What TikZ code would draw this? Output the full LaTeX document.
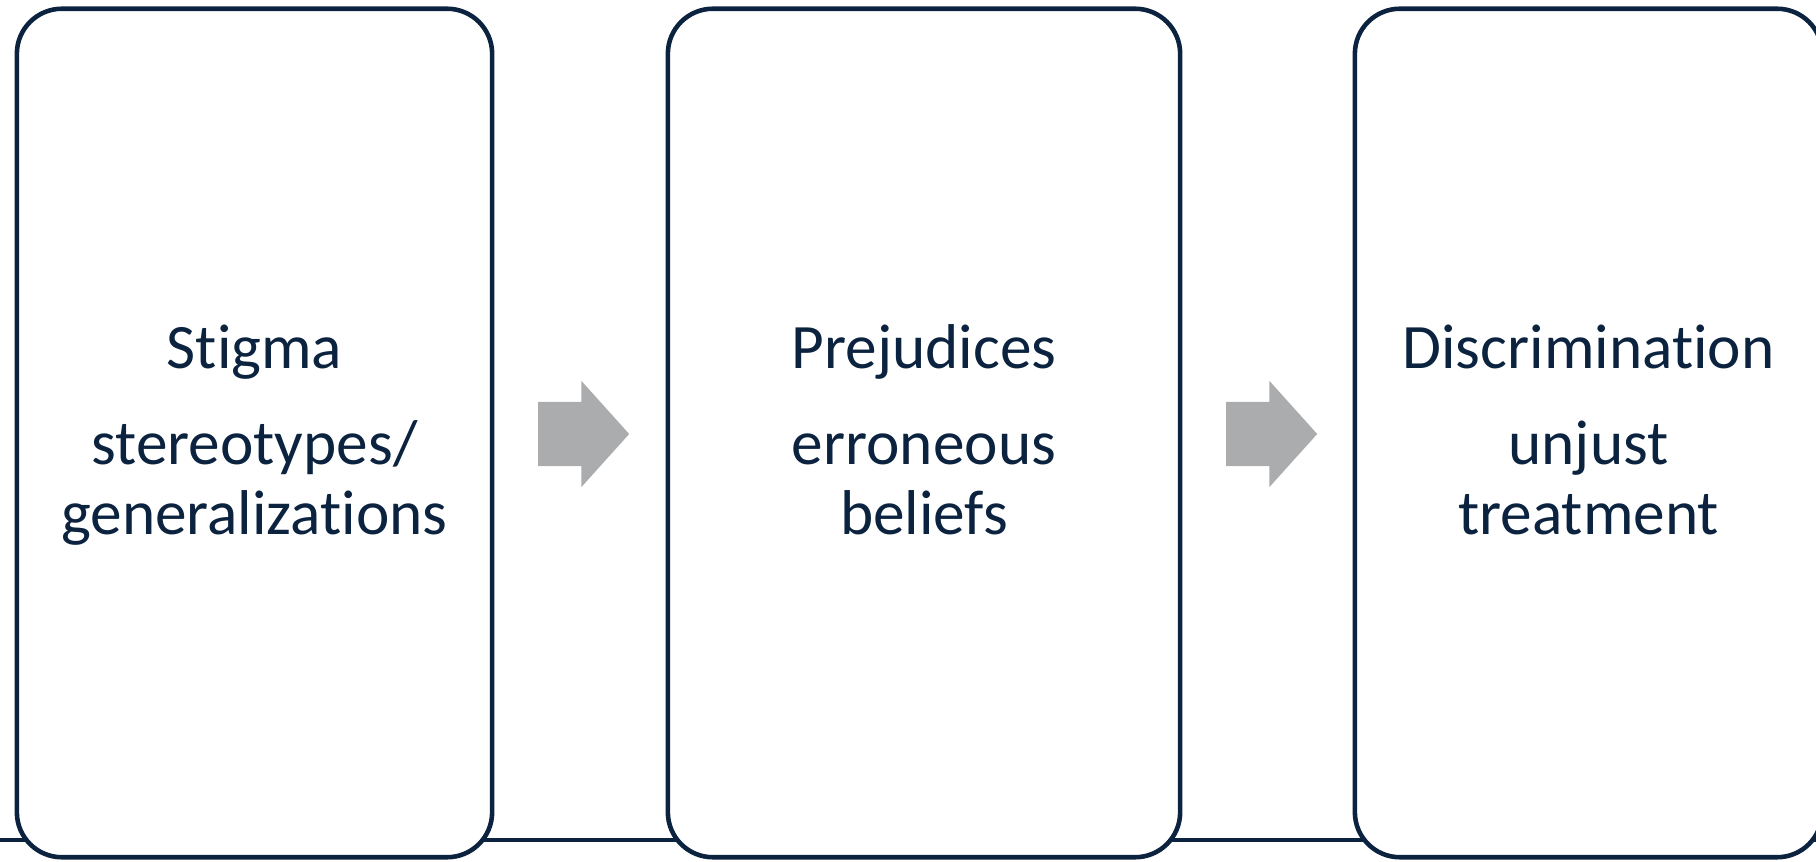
\documentclass[tikz,border=0pt]{standalone}
\usepackage{fontspec}
\setmainfont{Carlito}[Ligatures=NoCommon]
\usetikzlibrary{shapes.arrows,calc}
\definecolor{navy}{HTML}{0C2340}
\definecolor{arrowgray}{HTML}{ABACAE}

\begin{document}
\begin{tikzpicture}[x=0.01cm, y=-0.01cm]

    \tikzset{%
    every box/.style={
        rectangle,
        rounded corners=4.5mm,
        draw=navy,
        line width=1.3pt,
        fill=white,
        minimum height=8.48cm
        },
    box text/.style={
        text=navy,
        font=\fontsize{18}{20}\selectfont,
        anchor=base,
        inner sep=0pt
        },
    step arrow/.style={
        single arrow,
        fill=arrowgray,
        draw=none,
        minimum height=9.1mm,
        single arrow head extend=2.1mm,
        single arrow tip angle=96,
        inner xsep=0pt,
        inner ysep=3.15mm,
        anchor=tail
        },
    }

    \useasboundingbox (0,0) rectangle (1816,862);

    % Base line, behind the boxes
    \coordinate (line-start) at (0,840);
    \coordinate (line-end) at (1816,840);
    \draw [navy, line width=1pt] (line-start) -- (line-end);

    % The three boxes
    \node [every box, minimum width=4.75cm] (stigma) at (254.5,433) {};
    \node [every box, minimum width=5.12cm] (prejudices) at (924,433) {};
    \node [every box, minimum width=4.67cm] (discrimination) at (1588.5,433) {};

    % Block arrows between the boxes
    \node [step arrow] (arrow-1) at ($(stigma.east)+(43,1)$) {};
    \node [step arrow] (arrow-2) at ($(prejudices.east)+(43,1)$) {};

    % Box labels
    \node [box text] (stigma-title) at ($(stigma.center)+(0,-64)$) {Stigma};
    \node [box text] (stigma-line1) at ($(stigma.center)+(0,32)$) {stereotypes/};
    \node [box text] (stigma-line2) at ($(stigma.center)+(0,102)$) {generalizations};

    \node [box text] (prejudices-title) at ($(prejudices.center)+(0,-64)$) {Prejudices};
    \node [box text] (prejudices-line1) at ($(prejudices.center)+(0,32)$) {erroneous};
    \node [box text] (prejudices-line2) at ($(prejudices.center)+(0,102)$) {beliefs};

    \node [box text] (discrimination-title) at ($(discrimination.center)+(0,-64)$) {Discrimination};
    \node [box text] (discrimination-line1) at ($(discrimination.center)+(0,32)$) {unjust};
    \node [box text] (discrimination-line2) at ($(discrimination.center)+(0,102)$) {treatment};

\end{tikzpicture}
\end{document}
